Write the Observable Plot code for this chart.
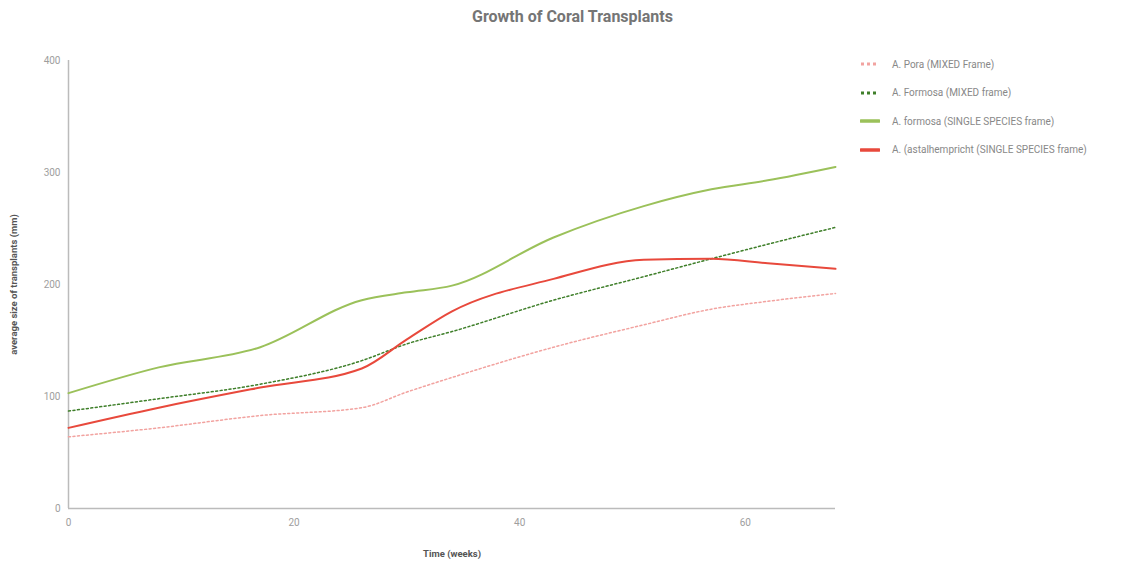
<!DOCTYPE html>
<html>
<head>
<meta charset="utf-8">
<script src="https://cdn.jsdelivr.net/npm/d3@7"></script>
<script src="https://cdn.jsdelivr.net/npm/@observablehq/plot@0.6"></script>
<style>
  html, body { margin: 0; padding: 0; background: #fff; }
  #wrap { position: relative; width: 1145px; height: 567px; font-family: Roboto, "Noto Sans", sans-serif; }
  #title { position: absolute; left: 0; width: 1145px; top: 7px; text-align: center; font-size: 16px; font-weight: bold; color: #757575; }
  #legend { position: absolute; left: 860px; top: 50px; font-size: 10px; color: #888; }
  .item { display: flex; align-items: center; height: 28.5px; }
  .item svg { margin-right: 12px; }
  #chart { position: absolute; left: 0; top: 0; }
</style>
</head>
<body>
<div id="wrap">
  <div id="chart"></div>
  <div id="title">Growth of Coral Transplants</div>
  <div id="legend"></div>
</div>
<script>
const weeks = [0, 8, 17, 26, 30, 34, 43, 51, 57, 62, 68];
const seriesNames = [
  "A. Pora (MIXED Frame)",
  "A. Formosa (MIXED frame)",
  "A. formosa (SINGLE SPECIES frame)",
  "A. pistillata/pocillopora (SINGLE SPECIES frame)"
];
const poraMixed = [64, 72, 83, 90, 104, 117, 144, 164, 178, 185, 192];
const formosaMixed = [87, 98, 111, 132, 147, 158, 186, 207, 223, 236, 251];
const formosaSingle = [103, 126, 144, 186, 193, 199, 242, 270, 285, 293, 305];
const redSingle = [72, 90, 108, 125, 151, 176, 205, 222, 223, 219, 214];
const xTicks = [0, 20, 40, 60];
const yTicks = [0, 100, 200, 300, 400];

const legendLabels = [
  "A. Pora (MIXED Frame)",
  "A. Formosa (MIXED frame)",
  "A. formosa (SINGLE SPECIES frame)",
  "A. (pistillata/pocillopora) (SINGLE SPECIES frame)"
];
legendLabels[3] = "A. (astalhempricht (SINGLE SPECIES frame)";

const styles = [
  {color: "#f2a3a0", dash: "2,2.5", width: 1.5},
  {color: "#3f7f2a", dash: "2,2.5", width: 1.5},
  {color: "#9bc15a", dash: null, width: 2},
  {color: "#e8493c", dash: null, width: 2}
];
const allValues = [poraMixed, formosaMixed, formosaSingle, redSingle];

function rows(vals) { return weeks.map((w, i) => ({week: w, value: vals[i]})); }

const marks = [
  Plot.ruleX([0], {stroke: "#bbb", strokeWidth: 1.5}),
  Plot.ruleY([0], {stroke: "#bbb", strokeWidth: 1.5}),
];
allValues.forEach((vals, i) => {
  const s = styles[i];
  marks.push(Plot.line(rows(vals), {
    x: "week", y: "value", stroke: s.color, strokeWidth: s.width,
    strokeDasharray: s.dash || undefined, curve: "monotone-x"
  }));
});

const chart = Plot.plot({
  width: 1145,
  height: 567,
  marginLeft: 68,
  marginRight: 310,
  marginTop: 60,
  marginBottom: 59,
  style: {fontFamily: "Roboto, 'Noto Sans', sans-serif", fontSize: "10px", color: "#9e9e9e", background: "#fff"},
  x: {domain: [0, 68], ticks: xTicks, tickSize: 0, tickPadding: 12, label: null},
  y: {domain: [0, 400], ticks: yTicks, tickSize: 0, tickPadding: 6, label: null},
  marks: [
    ...marks,
    Plot.axisX({ticks: xTicks, tickSize: 0, tickPadding: 10, label: "Time (weeks)", labelAnchor: "center", labelArrow: "none", labelOffset: 48, fill: "#9e9e9e"}),
    Plot.axisY({ticks: yTicks, tickSize: 0, tickPadding: 8, label: "average size of transplants (mm)", labelAnchor: "center", labelArrow: "none", labelOffset: 58, fill: "#9e9e9e"})
  ]
});
// style axis labels bold/dark
chart.querySelectorAll("g[aria-label='x-axis label'] text, g[aria-label='y-axis label'] text").forEach(t => {
  t.setAttribute("font-weight", "bold");
  t.setAttribute("fill", "#555");
  t.setAttribute("font-size", "9.5");
});
document.getElementById("chart").appendChild(chart);

const legend = document.getElementById("legend");
legendLabels.forEach((lab, i) => {
  const s = styles[i];
  const div = document.createElement("div");
  div.className = "item";
  const dash = s.dash ? 'stroke-dasharray="3,3"' : '';
  div.innerHTML = `<svg width="20" height="6"><line x1="1" y1="3" x2="19" y2="3" stroke="${s.color}" stroke-width="${s.dash ? 3 : 3.5}" ${dash} stroke-linecap="${s.dash ? 'butt' : 'round'}"/></svg><span>${lab}</span>`;
  legend.appendChild(div);
});
</script>
</body>
</html>
